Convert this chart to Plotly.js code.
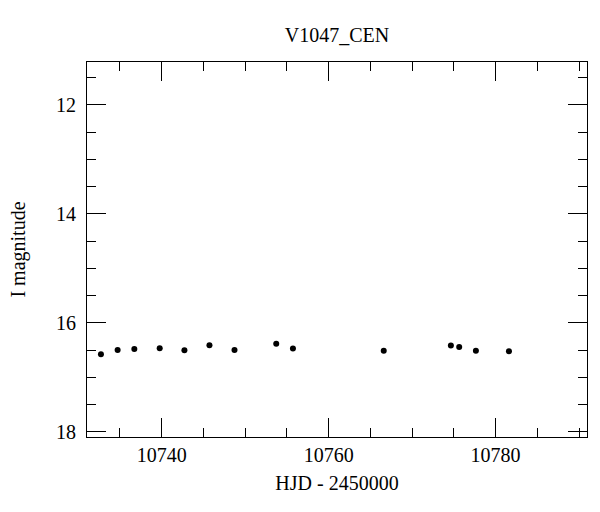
<!DOCTYPE html>
<html>
<head>
<meta charset="utf-8">
<script src="https://cdn.plot.ly/plotly-3.0.1.min.js"></script>
<style>html,body{margin:0;padding:0;background:#fff;}#plot{width:600px;height:512px;}</style>
</head>
<body>
<div id="plot"></div>
<script>
const chartTitle = "V1047_CEN";
const xTitle = "HJD - 2450000";
const yTitle = "I magnitude";
const hjd = [10732.72, 10734.72, 10736.72, 10739.76, 10742.72, 10745.72, 10748.72,
             10753.72, 10755.72, 10766.6, 10774.64, 10775.64, 10777.64, 10781.6];
const imag = [16.575, 16.495, 16.477, 16.465, 16.50, 16.41, 16.495,
              16.38, 16.47, 16.51, 16.416, 16.44, 16.51, 16.52];

const fontFam = "'Liberation Serif', serif";
const trace = {
  x: hjd, y: imag, type: 'scatter', mode: 'markers',
  marker: {color: '#000', size: 6},
  hoverinfo: 'skip'
};
const axisCommon = {
  showline: true, linecolor: '#000', linewidth: 1, mirror: 'ticks',
  ticks: 'inside', tickcolor: '#000', tickwidth: 1,
  showgrid: false, zeroline: false,
  tickfont: {family: fontFam, size: 20, color: '#000'}
};
const layout = {
  width: 600, height: 512,
  margin: {l: 87.3, r: 13, t: 62.3, b: 75.3, pad: 0},
  paper_bgcolor: '#fff', plot_bgcolor: '#fff',
  showlegend: false,
  title: {text: chartTitle, font: {family: fontFam, size: 20, color: '#000'},
          x: 0.5, xref: 'paper', xanchor: 'center', y: 1 - 35/512, yanchor: 'middle'},
  xaxis: Object.assign({}, axisCommon, {
    range: [10731.05, 10790.95], tick0: 10740, dtick: 20, ticklen: 19, tickformat: 'd',
    minor: {dtick: 5, ticklen: 9, ticks: 'inside', tickcolor: '#000', tickwidth: 1, showgrid: false},
    title: {text: xTitle, font: {family: fontFam, size: 20, color: '#000'}, standoff: 10}
  }),
  yaxis: Object.assign({}, axisCommon, {
    range: [18.092, 11.216], tick0: 12, dtick: 2, ticklen: 19,
    minor: {dtick: 0.5, ticklen: 9, ticks: 'inside', tickcolor: '#000', tickwidth: 1, showgrid: false},
    ticklabelstandoff: 6,
    title: {text: yTitle, font: {family: fontFam, size: 20, color: '#000'}, standoff: 25}
  })
};
Plotly.newPlot('plot', [trace], layout, {staticPlot: true, displayModeBar: false});
</script>
</body>
</html>
